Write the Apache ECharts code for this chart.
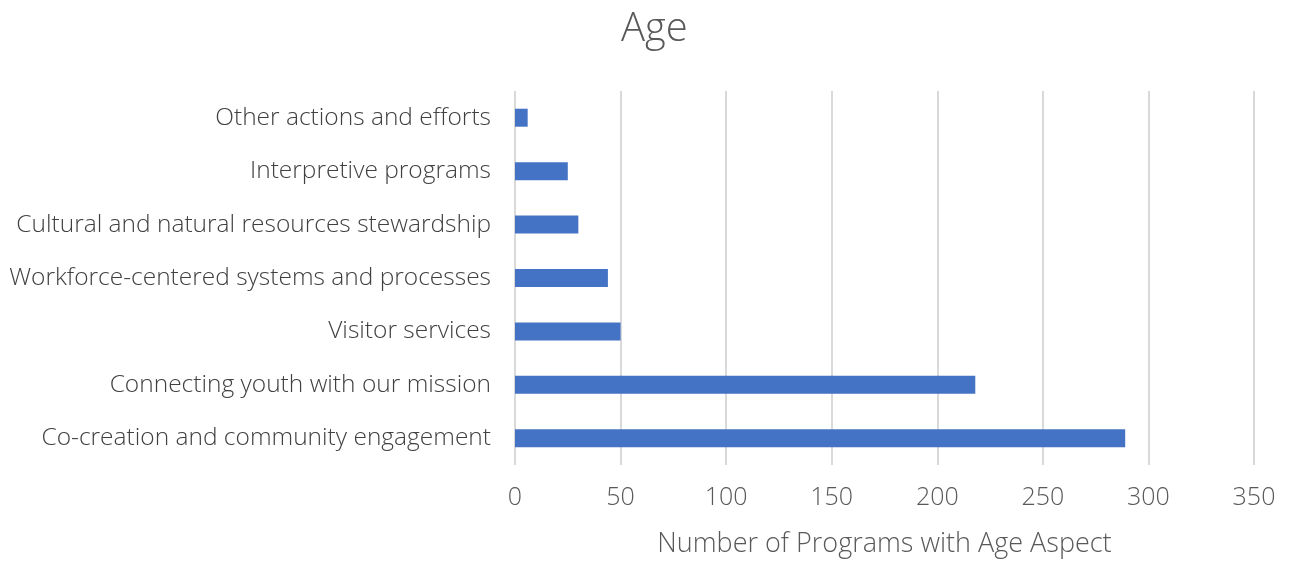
<!DOCTYPE html>
<html>
<head>
<meta charset="utf-8">
<script src="https://cdn.jsdelivr.net/npm/echarts@6/dist/echarts.min.js"></script>
<style>
  html, body { margin: 0; padding: 0; background: #fff; }
  #ageChart { width: 1289px; height: 563px; }
</style>
</head>
<body>
<div id="ageChart"></div>
<script>
// categories listed bottom to top
const categories = [
  'Co-creation and community engagement',
  'Connecting youth with our mission',
  'Visitor services',
  'Workforce-centered systems and processes',
  'Cultural and natural resources stewardship',
  'Interpretive programs',
  'Other actions and efforts'
]
const programCounts = [289, 218, 50, 44, 30, 25, 6]
const xTicks = [0, 50, 100, 150, 200, 250, 300, 350]

const chart = echarts.init(document.getElementById('ageChart'))
const option = {
  animation: false,
  textStyle: { fontFamily: '"Open Sans", sans-serif' },
  title: {
    text: 'Age',
    left: 616,
    top: 5,
    textStyle: { fontSize: 40, fontWeight: 300, color: '#595959' }
  },
  grid: { left: 515, right: 35, top: 91, bottom: 98 },
  xAxis: {
    type: 'value',
    min: xTicks[0],
    max: xTicks[xTicks.length - 1],
    interval: 50,
    name: 'Number of Programs with Age Aspect',
    nameLocation: 'middle',
    nameGap: 66,
    nameTextStyle: { fontSize: 27, fontWeight: 300, color: '#595959' },
    axisLine: { show: false },
    axisTick: { show: false },
    axisLabel: { fontSize: 25, fontWeight: 300, color: '#595959', margin: 20 },
    splitLine: { show: true, lineStyle: { color: '#d9d9d9', width: 2 } }
  },
  yAxis: {
    type: 'category',
    data: categories,
    axisLine: { show: false },
    axisTick: { show: false },
    axisLabel: { fontSize: 24.5, fontWeight: 300, color: '#404040', margin: 24 }
  },
  series: [
    {
      type: 'bar',
      data: programCounts,
      barWidth: 18,
      itemStyle: { color: '#4472c4' }
    }
  ]
}
chart.setOption(option)
</script>
</body>
</html>
